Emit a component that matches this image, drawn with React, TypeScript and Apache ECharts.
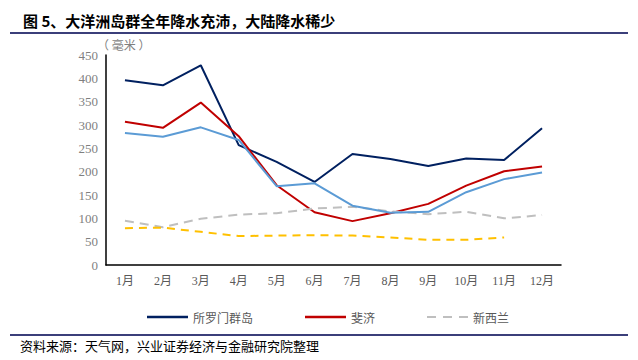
import React, { useEffect, useRef } from "react";
import * as echarts from "echarts";

const months = ["1月", "2月", "3月", "4月", "5月", "6月", "7月", "8月", "9月", "10月", "11月", "12月"];
const solomon = [396, 385, 428, 257, 221, 178, 238, 227, 212, 228, 225, 293];
const fiji = [307, 294, 348, 276, 171, 113, 94, 111, 131, 170, 201, 211];
const lightBlue = [283, 275, 295, 268, 169, 175, 127, 112, 114, 156, 184, 198];
const newZealand = [95, 81, 99, 108, 111, 121, 125, 115, 109, 114, 100, 107];
const yellowSeries = [79, 80, 71, 62, 63, 64, 63, 59, 54, 54, 59, null];
const yTicks = [0, 50, 100, 150, 200, 250, 300, 350, 400, 450];

const serif = "'Liberation Serif', 'Noto Sans CJK SC', serif";
const cjk = "'Noto Sans CJK SC', sans-serif";
const dashIcon = "path://M0,0h9v2h-9z M16,0h9v2h-9z M32,0h9v2h-9z";

export default function App() {
  const ref = useRef<HTMLDivElement>(null);
  useEffect(() => {
    const chart = echarts.init(ref.current!, null, { renderer: "svg" });
    chart.setOption({
      animation: false,
      backgroundColor: "#fff",
      grid: { left: 106, right: 77, top: 55, bottom: 95 },
      title: {
        text: "图 5、大洋洲岛群全年降水充沛，大陆降水稀少",
        left: 18,
        top: 8,
        textStyle: { fontFamily: cjk, fontSize: 15, fontWeight: "bold", color: "#000" },
      },
      legend: {
        data: [
          { name: "所罗门群岛", icon: "rect" },
          { name: "斐济", icon: "rect" },
          { name: "新西兰", icon: dashIcon },
        ],
        left: 142,
        top: 306,
        itemWidth: 41,
        itemHeight: 2.5,
        itemGap: 52,
        textStyle: { fontFamily: cjk, fontSize: 12, color: "#595959" },
      },
      graphic: [
        { type: "line", shape: { x1: 10, y1: 33, x2: 628, y2: 33 }, style: { stroke: "#3B3F7A", lineWidth: 2 } },
        { type: "line", shape: { x1: 10, y1: 335, x2: 628, y2: 335 }, style: { stroke: "#3B3F7A", lineWidth: 2 } },
        {
          type: "text",
          left: 20,
          top: 339,
          style: { text: "资料来源：天气网，兴业证券经济与金融研究院整理", font: `13px ${cjk}`, fill: "#000" },
        },
        {
          type: "text",
          left: 97,
          top: 38,
          style: { text: "（ 毫米 ）", font: `12px ${cjk}`, fill: "#7F7F7F" },
        },
      ],
      xAxis: {
        type: "category",
        data: months,
        boundaryGap: true,
        axisLine: { lineStyle: { color: "#000", width: 1.5 } },
        axisTick: { inside: true, length: 5, lineStyle: { color: "#000" } },
        axisLabel: { fontFamily: serif, fontSize: 12, color: "#595959", margin: 10 },
      },
      yAxis: {
        type: "value",
        min: 0,
        max: 450,
        interval: 50,
        axisLine: { show: true, lineStyle: { color: "#000", width: 1.5 } },
        axisTick: { show: false },
        splitLine: { show: false },
        axisLabel: {
          fontFamily: serif,
          fontSize: 13,
          color: "#7F7F7F",
          margin: 8,
          formatter: (v: number) => (yTicks.includes(v) ? String(v) : ""),
        },
      },
      series: [
        { name: "所罗门群岛", type: "line", data: solomon, symbol: "none", lineStyle: { color: "#002060", width: 2 }, itemStyle: { color: "#002060" } },
        { name: "斐济", type: "line", data: fiji, symbol: "none", lineStyle: { color: "#C00000", width: 2 }, itemStyle: { color: "#C00000" } },
        { name: "新西兰", type: "line", data: newZealand, symbol: "none", lineStyle: { color: "#BFBFBF", width: 2, type: [9, 6] }, itemStyle: { color: "#BFBFBF" } },
        { name: "其他", type: "line", data: lightBlue, symbol: "none", lineStyle: { color: "#5B9BD5", width: 2 }, itemStyle: { color: "#5B9BD5" } },
        { name: "其他2", type: "line", data: yellowSeries, symbol: "none", lineStyle: { color: "#FFC000", width: 2, type: [8, 6] }, itemStyle: { color: "#FFC000" } },
      ],
    });
    return () => chart.dispose();
  }, []);
  return <div ref={ref} style={{ width: 638, height: 360, position: "absolute", left: 0, top: 0 }} />;
}
